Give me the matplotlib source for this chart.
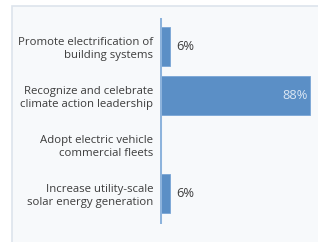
import matplotlib
matplotlib.use("Agg")
import matplotlib.pyplot as plt
from matplotlib.patches import Rectangle

categories = ["Promote electrification of\nbuilding systems",
              "Recognize and celebrate\nclimate action leadership",
              "Adopt electric vehicle\ncommercial fleets",
              "Increase utility-scale\nsolar energy generation"]
values = [6, 88, 0, 6]
value_labels = ["6%", "88%", "", "6%"]

W, H = 318, 242
fig = plt.figure(figsize=(W/100, H/100), dpi=100)
fig.patch.set_facecolor("white")
fig.patches.append(Rectangle((12/W, -0.1), 1.0, (H-6)/H + 0.1, transform=fig.transFigure,
                             facecolor="#f7f9fb", edgecolor="#dde4ec", linewidth=1.2, zorder=-10))

FONT = "Open Sans"
ax = fig.add_axes([160/W, 18/H, 92*1.705/W, 206/H])
ax.set_facecolor("none")
bar_color = "#5b8fc6"
ax.barh(range(len(values)), values, height=0.8, color=bar_color, edgecolor="#7aa6d6", linewidth=0.6)
ax.set_xlim(0, 92)
ax.set_ylim(3.62, -0.58)
for s in ax.spines.values():
    s.set_visible(False)
ax.axvline(0, color="#8db3dc", linewidth=2.2)
ax.set_xticks([])
ax.set_yticks(range(len(categories)))
ax.set_yticklabels(categories, fontsize=8.2, color="#3c3c3c", family=FONT, linespacing=1.3)
ax.tick_params(axis="y", length=0, pad=5)

for i, (v, lab) in enumerate(zip(values, value_labels)):
    if not lab:
        continue
    if v > 50:
        ax.text(v - 1.5, i, lab, ha="right", va="center", fontsize=9.3, color="#dbe7f4", family=FONT)
    else:
        ax.text(v + 3.5, i, lab, ha="left", va="center", fontsize=9.3, color="#3c3c3c", family=FONT)

fig.savefig("out.png", dpi=100, facecolor=fig.get_facecolor())
